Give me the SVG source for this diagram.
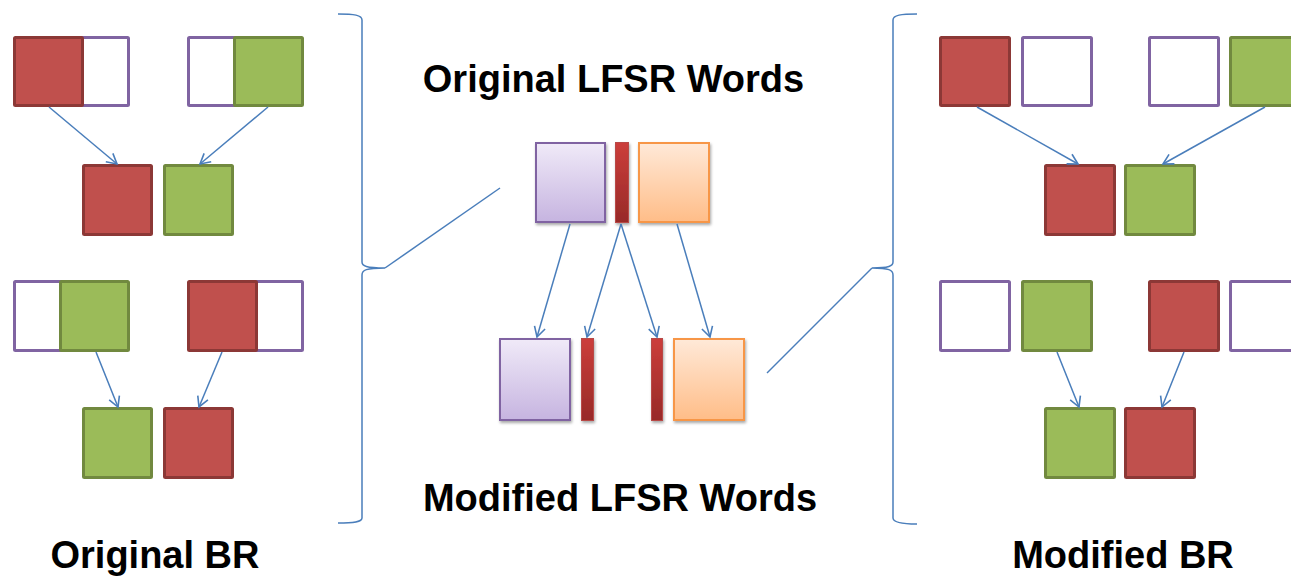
<svg xmlns="http://www.w3.org/2000/svg" width="1291" height="577" viewBox="0 0 1291 577">
  <style>
    .red { fill: #C0504D; stroke: #8C3836; stroke-width: 3; }
    .green { fill: #9BBB59; stroke: #71893F; stroke-width: 3; }
    .empty { fill: #FFFFFF; stroke: #8064A2; stroke-width: 3; }
    .link { fill: none; stroke: #4A7EBB; stroke-width: 1.5; }
    .arrow { fill: none; stroke: #4A7EBB; stroke-width: 1.5; marker-end: url(#head); }
    .label { font-family: "Liberation Sans", Arial, sans-serif; font-weight: bold; font-size: 38px; fill: #000000; text-anchor: middle; }
  </style>
  <defs>
    <marker id="head" viewBox="-12 -7 14 14" refX="0" refY="0" markerWidth="14" markerHeight="14" markerUnits="userSpaceOnUse" orient="auto">
      <path d="M-10,-5.5 L0,0 L-10,5.5" fill="none" stroke="#4A7EBB" stroke-width="1.6"/>
    </marker>
    <linearGradient id="gPurple" x1="0" y1="0" x2="0" y2="1">
      <stop offset="0" stop-color="#F0EAF8"/>
      <stop offset="1" stop-color="#C6B4E0"/>
    </linearGradient>
    <linearGradient id="gOrange" x1="0" y1="0" x2="0" y2="1">
      <stop offset="0" stop-color="#FFE9D8"/>
      <stop offset="1" stop-color="#FFBD88"/>
    </linearGradient>
    <linearGradient id="gRed" x1="0" y1="0" x2="0" y2="1">
      <stop offset="0" stop-color="#CC3E3B"/>
      <stop offset="1" stop-color="#972A28"/>
    </linearGradient>
    <filter id="shadow" x="-20%" y="-20%" width="150%" height="150%">
      <feGaussianBlur in="SourceAlpha" stdDeviation="1.5"/>
      <feOffset dx="1" dy="2" result="b"/>
      <feComponentTransfer><feFuncA type="linear" slope="0.35"/></feComponentTransfer>
      <feMerge><feMergeNode/><feMergeNode in="SourceGraphic"/></feMerge>
    </filter>
  </defs>

  <!-- Original BR (left) -->
  <g id="orig-top-left">
    <rect class="empty" x="60.5" y="37.5" width="68" height="68" rx="1"/>
    <rect class="red" x="14.5" y="37.5" width="68" height="68" rx="1"/>
  </g>
  <g id="orig-top-right">
    <rect class="empty" x="188.5" y="37.5" width="68" height="68" rx="1"/>
    <rect class="green" x="234.5" y="37.5" width="68" height="68" rx="1"/>
  </g>
  <g id="orig-mid">
    <rect class="red" x="83.5" y="165.5" width="68" height="69" rx="1"/>
    <rect class="green" x="164.5" y="165.5" width="68" height="69" rx="1"/>
  </g>
  <g id="orig-low-left">
    <rect class="empty" x="14.5" y="281.5" width="68" height="69" rx="1"/>
    <rect class="green" x="60.5" y="281.5" width="68" height="69" rx="1"/>
  </g>
  <g id="orig-low-right">
    <rect class="empty" x="234.5" y="281.5" width="68" height="69" rx="1"/>
    <rect class="red" x="188.5" y="281.5" width="68" height="69" rx="1"/>
  </g>
  <g id="orig-bottom">
    <rect class="green" x="83.5" y="408.5" width="68" height="69" rx="1"/>
    <rect class="red" x="164.5" y="408.5" width="68" height="69" rx="1"/>
  </g>

  <!-- LFSR words (centre) -->
  <g id="lfsr-original" filter="url(#shadow)">
    <rect x="536" y="143" width="69" height="79" fill="url(#gPurple)" stroke="#8064A2" stroke-width="2"/>
    <rect x="615.5" y="142.5" width="13" height="80" fill="url(#gRed)" stroke="#B84A46" stroke-width="1"/>
    <rect x="639" y="143" width="70" height="79" fill="url(#gOrange)" stroke="#F79646" stroke-width="2"/>
  </g>
  <g id="lfsr-modified" filter="url(#shadow)">
    <rect x="500" y="339" width="70" height="81" fill="url(#gPurple)" stroke="#8064A2" stroke-width="2"/>
    <rect x="581.5" y="338.5" width="12" height="82" fill="url(#gRed)" stroke="#B84A46" stroke-width="1"/>
    <rect x="651.5" y="338.5" width="11" height="82" fill="url(#gRed)" stroke="#B84A46" stroke-width="1"/>
    <rect x="674" y="339" width="70" height="81" fill="url(#gOrange)" stroke="#F79646" stroke-width="2"/>
  </g>

  <!-- Modified BR (right) -->
  <g id="mod-top">
    <rect class="red" x="940.5" y="37.5" width="69" height="68" rx="1"/>
    <rect class="empty" x="1022.5" y="37.5" width="69" height="68" rx="1"/>
    <rect class="empty" x="1149.5" y="37.5" width="69" height="68" rx="1"/>
    <rect class="green" x="1230.5" y="37.5" width="69" height="68" rx="1"/>
  </g>
  <g id="mod-mid">
    <rect class="red" x="1045.5" y="165.5" width="69" height="69" rx="1"/>
    <rect class="green" x="1125.5" y="165.5" width="69" height="69" rx="1"/>
  </g>
  <g id="mod-low">
    <rect class="empty" x="940.5" y="281.5" width="69" height="69" rx="1"/>
    <rect class="green" x="1022.5" y="281.5" width="69" height="69" rx="1"/>
    <rect class="red" x="1149.5" y="281.5" width="69" height="69" rx="1"/>
    <rect class="empty" x="1230.5" y="281.5" width="69" height="69" rx="1"/>
  </g>
  <g id="mod-bottom">
    <rect class="green" x="1045.5" y="408.5" width="69" height="69" rx="1"/>
    <rect class="red" x="1125.5" y="408.5" width="69" height="69" rx="1"/>
  </g>

  <!-- Connectors -->
  <g id="connectors">
    <line class="arrow" x1="49" y1="107" x2="117" y2="164"/>
    <line class="arrow" x1="268" y1="107" x2="200" y2="164"/>
    <line class="arrow" x1="96" y1="352" x2="118" y2="407"/>
    <line class="arrow" x1="222" y1="352" x2="199" y2="407"/>

    <line class="arrow" x1="977" y1="107" x2="1078" y2="164"/>
    <line class="arrow" x1="1265" y1="107" x2="1163" y2="164"/>
    <line class="arrow" x1="1057" y1="352" x2="1079" y2="407"/>
    <line class="arrow" x1="1184" y1="352" x2="1162" y2="407"/>

    <line class="arrow" x1="570" y1="224" x2="537" y2="337"/>
    <line class="arrow" x1="621" y1="224" x2="587" y2="337"/>
    <line class="arrow" x1="621" y1="224" x2="657" y2="337"/>
    <line class="arrow" x1="677" y1="224" x2="710" y2="337"/>

    <!-- braces and their leader lines -->
    <path class="link" d="M338,14 C354,14 362,15 362,20 L362,262 C362,266 366,268 385,268 C366,268 362,270 362,275 L362,518 C362,522 354,523 338,523"/>
    <line class="link" x1="385" y1="268" x2="500" y2="188"/>
    <path class="link" d="M917,14 C901,14 893,15 893,20 L893,262 C893,266 889,268 872,268 C889,268 893,270 893,275 L893,518 C893,522 901,524 917,524"/>
    <line class="link" x1="872" y1="268" x2="767" y2="373"/>
  </g>

  <!-- Labels -->
  <text class="label" x="613.5" y="92">Original LFSR Words</text>
  <text class="label" x="620" y="511">Modified LFSR Words</text>
  <text class="label" x="155" y="568">Original BR</text>
  <text class="label" x="1123" y="568">Modified BR</text>
</svg>
